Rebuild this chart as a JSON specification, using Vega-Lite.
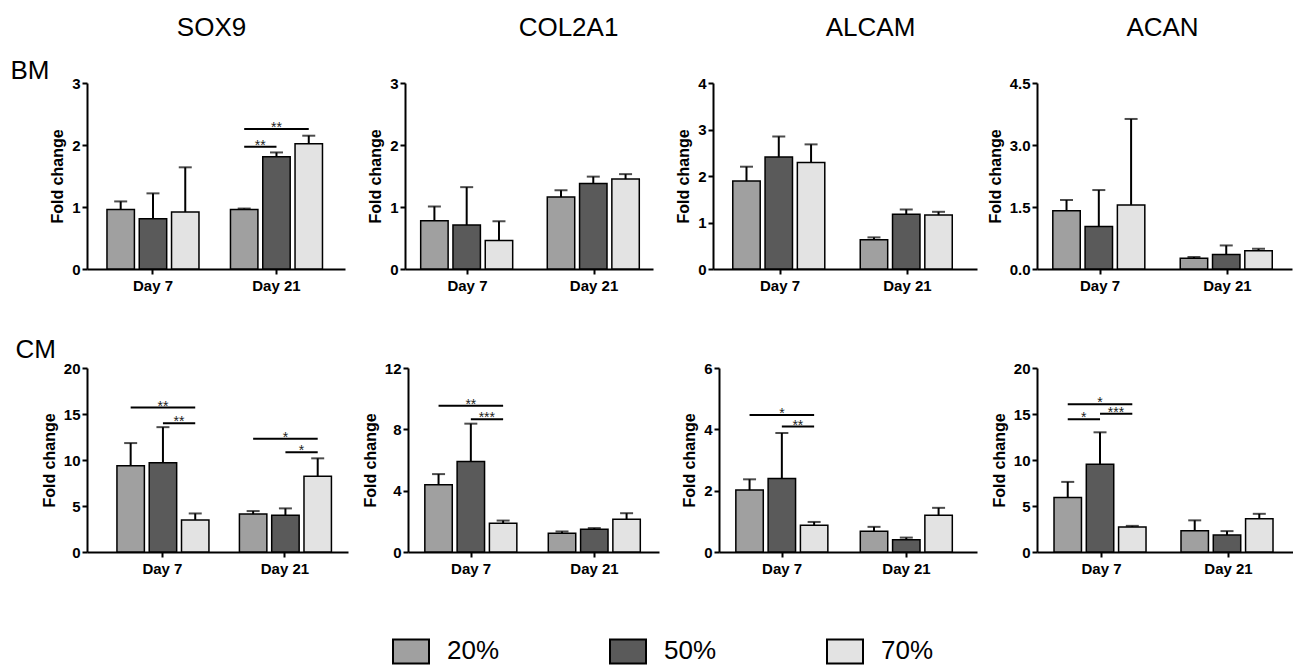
{
  "$schema": "https://vega.github.io/schema/vega-lite/v6.json",
  "padding": {"left": 10, "top": 14, "right": 0, "bottom": 0},
  "spacing": 43,
  "config": {
    "view": {"stroke": null},
    "font": "Liberation Sans",
    "axis": {"domainColor": "black", "domainWidth": 2, "tickColor": "black", "tickWidth": 2, "tickSize": 5, "labelColor": "black", "labelFont": "Liberation Sans", "labelFontWeight": "bold", "labelFontSize": 15, "labelPadding": 2, "titleColor": "black", "titleFont": "Liberation Sans", "titleFontWeight": "bold", "titleFontSize": 16, "titlePadding": 6, "grid": false},
    "axisX": {"labelPadding": 4},
    "text": {"font": "Liberation Sans"}
  },
  "datasets": {
    "bars": [
      {"row": "BM", "gene": "SOX9", "day": "Day 7", "group": "20%", "mean": 0.96, "upper": 1.09},
      {"row": "BM", "gene": "SOX9", "day": "Day 7", "group": "50%", "mean": 0.81, "upper": 1.22},
      {"row": "BM", "gene": "SOX9", "day": "Day 7", "group": "70%", "mean": 0.92, "upper": 1.64},
      {"row": "BM", "gene": "SOX9", "day": "Day 21", "group": "20%", "mean": 0.96, "upper": 0.975},
      {"row": "BM", "gene": "SOX9", "day": "Day 21", "group": "50%", "mean": 1.81, "upper": 1.88},
      {"row": "BM", "gene": "SOX9", "day": "Day 21", "group": "70%", "mean": 2.02, "upper": 2.15},
      {"row": "BM", "gene": "COL2A1", "day": "Day 7", "group": "20%", "mean": 0.78, "upper": 1.01},
      {"row": "BM", "gene": "COL2A1", "day": "Day 7", "group": "50%", "mean": 0.71, "upper": 1.32},
      {"row": "BM", "gene": "COL2A1", "day": "Day 7", "group": "70%", "mean": 0.46, "upper": 0.77},
      {"row": "BM", "gene": "COL2A1", "day": "Day 21", "group": "20%", "mean": 1.16, "upper": 1.27},
      {"row": "BM", "gene": "COL2A1", "day": "Day 21", "group": "50%", "mean": 1.38, "upper": 1.49},
      {"row": "BM", "gene": "COL2A1", "day": "Day 21", "group": "70%", "mean": 1.45, "upper": 1.53},
      {"row": "BM", "gene": "ALCAM", "day": "Day 7", "group": "20%", "mean": 1.89, "upper": 2.2},
      {"row": "BM", "gene": "ALCAM", "day": "Day 7", "group": "50%", "mean": 2.41, "upper": 2.85},
      {"row": "BM", "gene": "ALCAM", "day": "Day 7", "group": "70%", "mean": 2.29, "upper": 2.68},
      {"row": "BM", "gene": "ALCAM", "day": "Day 21", "group": "20%", "mean": 0.63, "upper": 0.68},
      {"row": "BM", "gene": "ALCAM", "day": "Day 21", "group": "50%", "mean": 1.18, "upper": 1.28},
      {"row": "BM", "gene": "ALCAM", "day": "Day 21", "group": "70%", "mean": 1.16, "upper": 1.23},
      {"row": "BM", "gene": "ACAN", "day": "Day 7", "group": "20%", "mean": 1.41, "upper": 1.67},
      {"row": "BM", "gene": "ACAN", "day": "Day 7", "group": "50%", "mean": 1.03, "upper": 1.91},
      {"row": "BM", "gene": "ACAN", "day": "Day 7", "group": "70%", "mean": 1.55, "upper": 3.63},
      {"row": "BM", "gene": "ACAN", "day": "Day 21", "group": "20%", "mean": 0.26, "upper": 0.29},
      {"row": "BM", "gene": "ACAN", "day": "Day 21", "group": "50%", "mean": 0.35, "upper": 0.57},
      {"row": "BM", "gene": "ACAN", "day": "Day 21", "group": "70%", "mean": 0.44, "upper": 0.49},
      {"row": "CM", "gene": "SOX9", "day": "Day 7", "group": "20%", "mean": 9.38, "upper": 11.84},
      {"row": "CM", "gene": "SOX9", "day": "Day 7", "group": "50%", "mean": 9.71, "upper": 13.57},
      {"row": "CM", "gene": "SOX9", "day": "Day 7", "group": "70%", "mean": 3.49, "upper": 4.19},
      {"row": "CM", "gene": "SOX9", "day": "Day 21", "group": "20%", "mean": 4.12, "upper": 4.45},
      {"row": "CM", "gene": "SOX9", "day": "Day 21", "group": "50%", "mean": 4.0, "upper": 4.74},
      {"row": "CM", "gene": "SOX9", "day": "Day 21", "group": "70%", "mean": 8.24, "upper": 10.18},
      {"row": "CM", "gene": "COL2A1", "day": "Day 7", "group": "20%", "mean": 4.39, "upper": 5.08},
      {"row": "CM", "gene": "COL2A1", "day": "Day 7", "group": "50%", "mean": 5.9, "upper": 8.37},
      {"row": "CM", "gene": "COL2A1", "day": "Day 7", "group": "70%", "mean": 1.88, "upper": 2.05},
      {"row": "CM", "gene": "COL2A1", "day": "Day 21", "group": "20%", "mean": 1.23, "upper": 1.34},
      {"row": "CM", "gene": "COL2A1", "day": "Day 21", "group": "50%", "mean": 1.49, "upper": 1.56},
      {"row": "CM", "gene": "COL2A1", "day": "Day 21", "group": "70%", "mean": 2.14, "upper": 2.53},
      {"row": "CM", "gene": "ALCAM", "day": "Day 7", "group": "20%", "mean": 2.02, "upper": 2.37},
      {"row": "CM", "gene": "ALCAM", "day": "Day 7", "group": "50%", "mean": 2.4, "upper": 3.88},
      {"row": "CM", "gene": "ALCAM", "day": "Day 7", "group": "70%", "mean": 0.87, "upper": 0.98},
      {"row": "CM", "gene": "ALCAM", "day": "Day 21", "group": "20%", "mean": 0.68, "upper": 0.82},
      {"row": "CM", "gene": "ALCAM", "day": "Day 21", "group": "50%", "mean": 0.4, "upper": 0.47},
      {"row": "CM", "gene": "ALCAM", "day": "Day 21", "group": "70%", "mean": 1.2, "upper": 1.44},
      {"row": "CM", "gene": "ACAN", "day": "Day 7", "group": "20%", "mean": 5.92, "upper": 7.62},
      {"row": "CM", "gene": "ACAN", "day": "Day 7", "group": "50%", "mean": 9.54, "upper": 13.01},
      {"row": "CM", "gene": "ACAN", "day": "Day 7", "group": "70%", "mean": 2.73, "upper": 2.84},
      {"row": "CM", "gene": "ACAN", "day": "Day 21", "group": "20%", "mean": 2.3, "upper": 3.44},
      {"row": "CM", "gene": "ACAN", "day": "Day 21", "group": "50%", "mean": 1.84, "upper": 2.27},
      {"row": "CM", "gene": "ACAN", "day": "Day 21", "group": "70%", "mean": 3.62, "upper": 4.15}
    ],
    "sig": [
      {"row": "BM", "gene": "SOX9", "day": "Day 21", "id": "a", "group": "20%", "level": 1.97},
      {"row": "BM", "gene": "SOX9", "day": "Day 21", "id": "a", "group": "50%", "level": 1.97},
      {"row": "BM", "gene": "SOX9", "day": "Day 21", "id": "b", "group": "20%", "level": 2.26},
      {"row": "BM", "gene": "SOX9", "day": "Day 21", "id": "b", "group": "70%", "level": 2.26},
      {"row": "CM", "gene": "SOX9", "day": "Day 7", "id": "c", "group": "20%", "level": 15.7},
      {"row": "CM", "gene": "SOX9", "day": "Day 7", "id": "c", "group": "70%", "level": 15.7},
      {"row": "CM", "gene": "SOX9", "day": "Day 7", "id": "d", "group": "50%", "level": 14.0},
      {"row": "CM", "gene": "SOX9", "day": "Day 7", "id": "d", "group": "70%", "level": 14.0},
      {"row": "CM", "gene": "SOX9", "day": "Day 21", "id": "e", "group": "20%", "level": 12.3},
      {"row": "CM", "gene": "SOX9", "day": "Day 21", "id": "e", "group": "70%", "level": 12.3},
      {"row": "CM", "gene": "SOX9", "day": "Day 21", "id": "f", "group": "50%", "level": 10.85},
      {"row": "CM", "gene": "SOX9", "day": "Day 21", "id": "f", "group": "70%", "level": 10.85},
      {"row": "CM", "gene": "COL2A1", "day": "Day 7", "id": "g", "group": "20%", "level": 9.54},
      {"row": "CM", "gene": "COL2A1", "day": "Day 7", "id": "g", "group": "70%", "level": 9.54},
      {"row": "CM", "gene": "COL2A1", "day": "Day 7", "id": "h", "group": "50%", "level": 8.65},
      {"row": "CM", "gene": "COL2A1", "day": "Day 7", "id": "h", "group": "70%", "level": 8.65},
      {"row": "CM", "gene": "ALCAM", "day": "Day 7", "id": "i", "group": "20%", "level": 4.47},
      {"row": "CM", "gene": "ALCAM", "day": "Day 7", "id": "i", "group": "70%", "level": 4.47},
      {"row": "CM", "gene": "ALCAM", "day": "Day 7", "id": "j", "group": "50%", "level": 4.09},
      {"row": "CM", "gene": "ALCAM", "day": "Day 7", "id": "j", "group": "70%", "level": 4.09},
      {"row": "CM", "gene": "ACAN", "day": "Day 7", "id": "k", "group": "20%", "level": 16.06},
      {"row": "CM", "gene": "ACAN", "day": "Day 7", "id": "k", "group": "70%", "level": 16.06},
      {"row": "CM", "gene": "ACAN", "day": "Day 7", "id": "l", "group": "20%", "level": 14.43},
      {"row": "CM", "gene": "ACAN", "day": "Day 7", "id": "l", "group": "50%", "level": 14.43},
      {"row": "CM", "gene": "ACAN", "day": "Day 7", "id": "m", "group": "50%", "level": 15.04},
      {"row": "CM", "gene": "ACAN", "day": "Day 7", "id": "m", "group": "70%", "level": 15.04}
    ],
    "stars": [
      {"row": "BM", "gene": "SOX9", "day": "Day 21", "group": "20%", "pos": "between", "level": 1.97, "label": "**"},
      {"row": "BM", "gene": "SOX9", "day": "Day 21", "group": "50%", "pos": "on", "level": 2.26, "label": "**"},
      {"row": "CM", "gene": "SOX9", "day": "Day 7", "group": "50%", "pos": "on", "level": 15.7, "label": "**"},
      {"row": "CM", "gene": "SOX9", "day": "Day 7", "group": "50%", "pos": "between", "level": 14.0, "label": "**"},
      {"row": "CM", "gene": "SOX9", "day": "Day 21", "group": "50%", "pos": "on", "level": 12.3, "label": "*"},
      {"row": "CM", "gene": "SOX9", "day": "Day 21", "group": "50%", "pos": "between", "level": 10.85, "label": "*"},
      {"row": "CM", "gene": "COL2A1", "day": "Day 7", "group": "50%", "pos": "on", "level": 9.54, "label": "**"},
      {"row": "CM", "gene": "COL2A1", "day": "Day 7", "group": "50%", "pos": "between", "level": 8.65, "label": "***"},
      {"row": "CM", "gene": "ALCAM", "day": "Day 7", "group": "50%", "pos": "on", "level": 4.47, "label": "*"},
      {"row": "CM", "gene": "ALCAM", "day": "Day 7", "group": "50%", "pos": "between", "level": 4.09, "label": "**"},
      {"row": "CM", "gene": "ACAN", "day": "Day 7", "group": "50%", "pos": "on", "level": 16.06, "label": "*"},
      {"row": "CM", "gene": "ACAN", "day": "Day 7", "group": "20%", "pos": "between", "level": 14.43, "label": "*"},
      {"row": "CM", "gene": "ACAN", "day": "Day 7", "group": "50%", "pos": "between", "level": 15.04, "label": "***"}
    ]
  },
  "vconcat": [
    {
      "bounds": "flush",
      "spacing": 60,
      "hconcat": [
        {
          "width": 258, "height": 186,
          "resolve": {"axis": {"x": "independent", "y": "independent"}},
          "layer": [
            {
              "data": {"name": "bars"},
              "transform": [{"filter": "datum.row === 'BM' && datum.gene === 'SOX9'"}],
              "mark": {"type": "bar", "stroke": "black", "strokeWidth": 1.5},
              "encoding": {
                "x": {"field": "day", "type": "nominal", "sort": ["Day 7", "Day 21"], "scale": {"paddingInner": 0.255, "paddingOuter": 0.172, "align": 0.47}, "axis": {"orient": "bottom", "title": null, "labelAngle": 0}},
                "xOffset": {"field": "group", "type": "nominal", "sort": ["20%", "50%", "70%"], "scale": {"paddingInner": 0.15, "paddingOuter": 0}},
                "y": {"field": "mean", "type": "quantitative", "scale": {"domain": [0, 3], "nice": false}, "axis": {"orient": "left", "title": "Fold change", "values": [0, 1, 2, 3]}},
                "fill": {"field": "group", "type": "nominal", "scale": {"domain": ["20%", "50%", "70%"], "range": ["#a0a0a0", "#5a5a5a", "#e3e3e3"]},
                  "legend": {"orient": "none", "legendX": 305, "legendY": 549, "direction": "horizontal", "columns": 3, "title": null, "symbolType": "M-1,-0.667H1V0.667H-1Z", "symbolSize": 1296, "symbolStrokeColor": "black", "symbolStrokeWidth": 2, "symbolOpacity": 1, "labelFontSize": 26, "labelFont": "Liberation Sans", "labelColor": "black", "labelOffset": 17, "columnPadding": 106}}
              }
            },
            {
              "data": {"name": "bars"},
              "transform": [{"filter": "datum.row === 'BM' && datum.gene === 'SOX9'"}],
              "mark": {"type": "rule", "strokeWidth": 2, "color": "black"},
              "encoding": {
                "x": {"field": "day", "type": "nominal", "sort": ["Day 7", "Day 21"], "axis": {"orient": "top", "title": "SOX9", "domain": false, "ticks": false, "labels": false, "titleFontSize": 26, "titleFontWeight": "normal", "titleX": 124, "titleY": -48, "titleAlign": "center", "titleBaseline": "alphabetic", "titleAngle": 0}},
                "xOffset": {"field": "group", "type": "nominal", "sort": ["20%", "50%", "70%"]},
                "y": {"field": "mean", "type": "quantitative", "axis": null},
                "y2": {"field": "upper"}
              }
            },
            {
              "data": {"name": "bars"},
              "transform": [{"filter": "datum.row === 'BM' && datum.gene === 'SOX9'"}],
              "mark": {"type": "tick", "thickness": 2, "size": 13, "color": "black"},
              "encoding": {
                "x": {"field": "day", "type": "nominal", "sort": ["Day 7", "Day 21"], "axis": null},
                "xOffset": {"field": "group", "type": "nominal", "sort": ["20%", "50%", "70%"]},
                "y": {"field": "upper", "type": "quantitative", "axis": {"orient": "right", "title": "BM", "domain": false, "ticks": false, "labels": false, "titleFontSize": 26, "titleFontWeight": "normal", "titleAngle": 0, "titleX": -335, "titleY": -5, "titleAlign": "left", "titleBaseline": "alphabetic"}}
              }
            },
            {
              "data": {"name": "sig"},
              "transform": [{"filter": "datum.row === 'BM' && datum.gene === 'SOX9'"}],
              "mark": {"type": "line", "strokeWidth": 2, "color": "black"},
              "encoding": {
                "x": {"field": "day", "type": "nominal", "sort": ["Day 7", "Day 21"], "axis": null},
                "xOffset": {"field": "group", "type": "nominal", "sort": ["20%", "50%", "70%"]},
                "y": {"field": "level", "type": "quantitative", "axis": null},
                "detail": {"field": "id"}
              }
            },
            {
              "data": {"name": "stars"},
              "transform": [{"filter": "datum.row === 'BM' && datum.gene === 'SOX9' && datum.pos === 'on'"}],
              "mark": {"type": "text", "fontSize": 14, "baseline": "alphabetic", "dy": 3, "color": "#222"},
              "encoding": {
                "x": {"field": "day", "type": "nominal", "sort": ["Day 7", "Day 21"], "axis": null},
                "xOffset": {"field": "group", "type": "nominal", "sort": ["20%", "50%", "70%"]},
                "y": {"field": "level", "type": "quantitative", "axis": null},
                "text": {"field": "label"}
              }
            },
            {
              "data": {"name": "stars"},
              "transform": [{"filter": "datum.row === 'BM' && datum.gene === 'SOX9' && datum.pos === 'between'"}],
              "mark": {"type": "text", "fontSize": 14, "baseline": "alphabetic", "dy": 3, "dx": 16, "color": "#222"},
              "encoding": {
                "x": {"field": "day", "type": "nominal", "sort": ["Day 7", "Day 21"], "axis": null},
                "xOffset": {"field": "group", "type": "nominal", "sort": ["20%", "50%", "70%"]},
                "y": {"field": "level", "type": "quantitative", "axis": null},
                "text": {"field": "label"}
              }
            }
          ]
        },
        {
          "width": 248, "height": 186,
          "resolve": {"axis": {"x": "independent", "y": "independent"}},
          "layer": [
            {
              "data": {"name": "bars"},
              "transform": [{"filter": "datum.row === 'BM' && datum.gene === 'COL2A1'"}],
              "mark": {"type": "bar", "stroke": "black", "strokeWidth": 1.5},
              "encoding": {
                "x": {"field": "day", "type": "nominal", "sort": ["Day 7", "Day 21"], "scale": {"paddingInner": 0.261, "paddingOuter": 0.11, "align": 0.563}, "axis": {"orient": "bottom", "title": null, "labelAngle": 0}},
                "xOffset": {"field": "group", "type": "nominal", "sort": ["20%", "50%", "70%"], "scale": {"paddingInner": 0.15, "paddingOuter": 0}},
                "y": {"field": "mean", "type": "quantitative", "scale": {"domain": [0, 3], "nice": false}, "axis": {"orient": "left", "title": "Fold change", "values": [0, 1, 2, 3]}},
                "fill": {"field": "group", "type": "nominal", "scale": {"domain": ["20%", "50%", "70%"], "range": ["#a0a0a0", "#5a5a5a", "#e3e3e3"]}, "legend": null}
              }
            },
            {
              "data": {"name": "bars"},
              "transform": [{"filter": "datum.row === 'BM' && datum.gene === 'COL2A1'"}],
              "mark": {"type": "rule", "strokeWidth": 2, "color": "black"},
              "encoding": {
                "x": {"field": "day", "type": "nominal", "sort": ["Day 7", "Day 21"], "axis": {"orient": "top", "title": "COL2A1", "domain": false, "ticks": false, "labels": false, "titleFontSize": 26, "titleFontWeight": "normal", "titleX": 163, "titleY": -48, "titleAlign": "center", "titleBaseline": "alphabetic", "titleAngle": 0}},
                "xOffset": {"field": "group", "type": "nominal", "sort": ["20%", "50%", "70%"]},
                "y": {"field": "mean", "type": "quantitative", "axis": null},
                "y2": {"field": "upper"}
              }
            },
            {
              "data": {"name": "bars"},
              "transform": [{"filter": "datum.row === 'BM' && datum.gene === 'COL2A1'"}],
              "mark": {"type": "tick", "thickness": 2, "size": 13, "color": "black"},
              "encoding": {
                "x": {"field": "day", "type": "nominal", "sort": ["Day 7", "Day 21"], "axis": null},
                "xOffset": {"field": "group", "type": "nominal", "sort": ["20%", "50%", "70%"]},
                "y": {"field": "upper", "type": "quantitative", "axis": null}
              }
            }
          ]
        },
        {
          "width": 264, "height": 186,
          "resolve": {"axis": {"x": "independent", "y": "independent"}},
          "layer": [
            {
              "data": {"name": "bars"},
              "transform": [{"filter": "datum.row === 'BM' && datum.gene === 'ALCAM'"}],
              "mark": {"type": "bar", "stroke": "black", "strokeWidth": 1.5},
              "encoding": {
                "x": {"field": "day", "type": "nominal", "sort": ["Day 7", "Day 21"], "scale": {"paddingInner": 0.259, "paddingOuter": 0.165, "align": 0.47}, "axis": {"orient": "bottom", "title": null, "labelAngle": 0}},
                "xOffset": {"field": "group", "type": "nominal", "sort": ["20%", "50%", "70%"], "scale": {"paddingInner": 0.15, "paddingOuter": 0}},
                "y": {"field": "mean", "type": "quantitative", "scale": {"domain": [0, 4], "nice": false}, "axis": {"orient": "left", "title": "Fold change", "values": [0, 1, 2, 3, 4]}},
                "fill": {"field": "group", "type": "nominal", "scale": {"domain": ["20%", "50%", "70%"], "range": ["#a0a0a0", "#5a5a5a", "#e3e3e3"]}, "legend": null}
              }
            },
            {
              "data": {"name": "bars"},
              "transform": [{"filter": "datum.row === 'BM' && datum.gene === 'ALCAM'"}],
              "mark": {"type": "rule", "strokeWidth": 2, "color": "black"},
              "encoding": {
                "x": {"field": "day", "type": "nominal", "sort": ["Day 7", "Day 21"], "axis": {"orient": "top", "title": "ALCAM", "domain": false, "ticks": false, "labels": false, "titleFontSize": 26, "titleFontWeight": "normal", "titleX": 157, "titleY": -48, "titleAlign": "center", "titleBaseline": "alphabetic", "titleAngle": 0}},
                "xOffset": {"field": "group", "type": "nominal", "sort": ["20%", "50%", "70%"]},
                "y": {"field": "mean", "type": "quantitative", "axis": null},
                "y2": {"field": "upper"}
              }
            },
            {
              "data": {"name": "bars"},
              "transform": [{"filter": "datum.row === 'BM' && datum.gene === 'ALCAM'"}],
              "mark": {"type": "tick", "thickness": 2, "size": 13, "color": "black"},
              "encoding": {
                "x": {"field": "day", "type": "nominal", "sort": ["Day 7", "Day 21"], "axis": null},
                "xOffset": {"field": "group", "type": "nominal", "sort": ["20%", "50%", "70%"]},
                "y": {"field": "upper", "type": "quantitative", "axis": null}
              }
            }
          ]
        },
        {
          "width": 255, "height": 186,
          "resolve": {"axis": {"x": "independent", "y": "independent"}},
          "layer": [
            {
              "data": {"name": "bars"},
              "transform": [{"filter": "datum.row === 'BM' && datum.gene === 'ACAN'"}],
              "mark": {"type": "bar", "stroke": "black", "strokeWidth": 1.5},
              "encoding": {
                "x": {"field": "day", "type": "nominal", "sort": ["Day 7", "Day 21"], "scale": {"paddingInner": 0.259, "paddingOuter": 0.13, "align": 0.477}, "axis": {"orient": "bottom", "title": null, "labelAngle": 0}},
                "xOffset": {"field": "group", "type": "nominal", "sort": ["20%", "50%", "70%"], "scale": {"paddingInner": 0.15, "paddingOuter": 0}},
                "y": {"field": "mean", "type": "quantitative", "scale": {"domain": [0, 4.5], "nice": false}, "axis": {"orient": "left", "title": "Fold change", "values": [0, 1.5, 3, 4.5], "format": ".1f"}},
                "fill": {"field": "group", "type": "nominal", "scale": {"domain": ["20%", "50%", "70%"], "range": ["#a0a0a0", "#5a5a5a", "#e3e3e3"]}, "legend": null}
              }
            },
            {
              "data": {"name": "bars"},
              "transform": [{"filter": "datum.row === 'BM' && datum.gene === 'ACAN'"}],
              "mark": {"type": "rule", "strokeWidth": 2, "color": "black"},
              "encoding": {
                "x": {"field": "day", "type": "nominal", "sort": ["Day 7", "Day 21"], "axis": {"orient": "top", "title": "ACAN", "domain": false, "ticks": false, "labels": false, "titleFontSize": 26, "titleFontWeight": "normal", "titleX": 125, "titleY": -48, "titleAlign": "center", "titleBaseline": "alphabetic", "titleAngle": 0}},
                "xOffset": {"field": "group", "type": "nominal", "sort": ["20%", "50%", "70%"]},
                "y": {"field": "mean", "type": "quantitative", "axis": null},
                "y2": {"field": "upper"}
              }
            },
            {
              "data": {"name": "bars"},
              "transform": [{"filter": "datum.row === 'BM' && datum.gene === 'ACAN'"}],
              "mark": {"type": "tick", "thickness": 2, "size": 13, "color": "black"},
              "encoding": {
                "x": {"field": "day", "type": "nominal", "sort": ["Day 7", "Day 21"], "axis": null},
                "xOffset": {"field": "group", "type": "nominal", "sort": ["20%", "50%", "70%"]},
                "y": {"field": "upper", "type": "quantitative", "axis": null}
              }
            }
          ]
        }
      ]
    },
    {
      "bounds": "flush",
      "spacing": 60,
      "hconcat": [
        {
          "width": 261, "height": 184,
          "resolve": {"axis": {"x": "independent", "y": "independent"}},
          "layer": [
            {
              "data": {"name": "bars"},
              "transform": [{"filter": "datum.row === 'CM' && datum.gene === 'SOX9'"}],
              "mark": {"type": "bar", "stroke": "black", "strokeWidth": 1.5},
              "encoding": {
                "x": {"field": "day", "type": "nominal", "sort": ["Day 7", "Day 21"], "scale": {"paddingInner": 0.257, "paddingOuter": 0.194, "align": 0.63}, "axis": {"orient": "bottom", "title": null, "labelAngle": 0}},
                "xOffset": {"field": "group", "type": "nominal", "sort": ["20%", "50%", "70%"], "scale": {"paddingInner": 0.15, "paddingOuter": 0}},
                "y": {"field": "mean", "type": "quantitative", "scale": {"domain": [0, 20], "nice": false}, "axis": {"orient": "left", "title": "Fold change", "values": [0, 5, 10, 15, 20]}},
                "fill": {"field": "group", "type": "nominal", "scale": {"domain": ["20%", "50%", "70%"], "range": ["#a0a0a0", "#5a5a5a", "#e3e3e3"]}, "legend": null}
              }
            },
            {
              "data": {"name": "bars"},
              "transform": [{"filter": "datum.row === 'CM' && datum.gene === 'SOX9'"}],
              "mark": {"type": "rule", "strokeWidth": 2, "color": "black"},
              "encoding": {
                "x": {"field": "day", "type": "nominal", "sort": ["Day 7", "Day 21"], "axis": null},
                "xOffset": {"field": "group", "type": "nominal", "sort": ["20%", "50%", "70%"]},
                "y": {"field": "mean", "type": "quantitative", "axis": null},
                "y2": {"field": "upper"}
              }
            },
            {
              "data": {"name": "bars"},
              "transform": [{"filter": "datum.row === 'CM' && datum.gene === 'SOX9'"}],
              "mark": {"type": "tick", "thickness": 2, "size": 13, "color": "black"},
              "encoding": {
                "x": {"field": "day", "type": "nominal", "sort": ["Day 7", "Day 21"], "axis": null},
                "xOffset": {"field": "group", "type": "nominal", "sort": ["20%", "50%", "70%"]},
                "y": {"field": "upper", "type": "quantitative", "axis": {"orient": "right", "title": "CM", "domain": false, "ticks": false, "labels": false, "titleFontSize": 26, "titleFontWeight": "normal", "titleAngle": 0, "titleX": -333, "titleY": -11, "titleAlign": "left", "titleBaseline": "alphabetic"}}
              }
            },
            {
              "data": {"name": "sig"},
              "transform": [{"filter": "datum.row === 'CM' && datum.gene === 'SOX9'"}],
              "mark": {"type": "line", "strokeWidth": 2, "color": "black"},
              "encoding": {
                "x": {"field": "day", "type": "nominal", "sort": ["Day 7", "Day 21"], "axis": null},
                "xOffset": {"field": "group", "type": "nominal", "sort": ["20%", "50%", "70%"]},
                "y": {"field": "level", "type": "quantitative", "axis": null},
                "detail": {"field": "id"}
              }
            },
            {
              "data": {"name": "stars"},
              "transform": [{"filter": "datum.row === 'CM' && datum.gene === 'SOX9' && datum.pos === 'on'"}],
              "mark": {"type": "text", "fontSize": 14, "baseline": "alphabetic", "dy": 3, "color": "#222"},
              "encoding": {
                "x": {"field": "day", "type": "nominal", "sort": ["Day 7", "Day 21"], "axis": null},
                "xOffset": {"field": "group", "type": "nominal", "sort": ["20%", "50%", "70%"]},
                "y": {"field": "level", "type": "quantitative", "axis": null},
                "text": {"field": "label"}
              }
            },
            {
              "data": {"name": "stars"},
              "transform": [{"filter": "datum.row === 'CM' && datum.gene === 'SOX9' && datum.pos === 'between'"}],
              "mark": {"type": "text", "fontSize": 14, "baseline": "alphabetic", "dy": 3, "dx": 16, "color": "#222"},
              "encoding": {
                "x": {"field": "day", "type": "nominal", "sort": ["Day 7", "Day 21"], "axis": null},
                "xOffset": {"field": "group", "type": "nominal", "sort": ["20%", "50%", "70%"]},
                "y": {"field": "level", "type": "quantitative", "axis": null},
                "text": {"field": "label"}
              }
            }
          ]
        },
        {
          "width": 251, "height": 184,
          "resolve": {"axis": {"x": "independent", "y": "independent"}},
          "layer": [
            {
              "data": {"name": "bars"},
              "transform": [{"filter": "datum.row === 'CM' && datum.gene === 'COL2A1'"}],
              "mark": {"type": "bar", "stroke": "black", "strokeWidth": 1.5},
              "encoding": {
                "x": {"field": "day", "type": "nominal", "sort": ["Day 7", "Day 21"], "scale": {"paddingInner": 0.251, "paddingOuter": 0.142, "align": 0.48}, "axis": {"orient": "bottom", "title": null, "labelAngle": 0}},
                "xOffset": {"field": "group", "type": "nominal", "sort": ["20%", "50%", "70%"], "scale": {"paddingInner": 0.15, "paddingOuter": 0}},
                "y": {"field": "mean", "type": "quantitative", "scale": {"domain": [0, 12], "nice": false}, "axis": {"orient": "left", "title": "Fold change", "values": [0, 4, 8, 12]}},
                "fill": {"field": "group", "type": "nominal", "scale": {"domain": ["20%", "50%", "70%"], "range": ["#a0a0a0", "#5a5a5a", "#e3e3e3"]}, "legend": null}
              }
            },
            {
              "data": {"name": "bars"},
              "transform": [{"filter": "datum.row === 'CM' && datum.gene === 'COL2A1'"}],
              "mark": {"type": "rule", "strokeWidth": 2, "color": "black"},
              "encoding": {
                "x": {"field": "day", "type": "nominal", "sort": ["Day 7", "Day 21"], "axis": null},
                "xOffset": {"field": "group", "type": "nominal", "sort": ["20%", "50%", "70%"]},
                "y": {"field": "mean", "type": "quantitative", "axis": null},
                "y2": {"field": "upper"}
              }
            },
            {
              "data": {"name": "bars"},
              "transform": [{"filter": "datum.row === 'CM' && datum.gene === 'COL2A1'"}],
              "mark": {"type": "tick", "thickness": 2, "size": 13, "color": "black"},
              "encoding": {
                "x": {"field": "day", "type": "nominal", "sort": ["Day 7", "Day 21"], "axis": null},
                "xOffset": {"field": "group", "type": "nominal", "sort": ["20%", "50%", "70%"]},
                "y": {"field": "upper", "type": "quantitative", "axis": null}
              }
            },
            {
              "data": {"name": "sig"},
              "transform": [{"filter": "datum.row === 'CM' && datum.gene === 'COL2A1'"}],
              "mark": {"type": "line", "strokeWidth": 2, "color": "black"},
              "encoding": {
                "x": {"field": "day", "type": "nominal", "sort": ["Day 7", "Day 21"], "axis": null},
                "xOffset": {"field": "group", "type": "nominal", "sort": ["20%", "50%", "70%"]},
                "y": {"field": "level", "type": "quantitative", "axis": null},
                "detail": {"field": "id"}
              }
            },
            {
              "data": {"name": "stars"},
              "transform": [{"filter": "datum.row === 'CM' && datum.gene === 'COL2A1' && datum.pos === 'on'"}],
              "mark": {"type": "text", "fontSize": 14, "baseline": "alphabetic", "dy": 3, "color": "#222"},
              "encoding": {
                "x": {"field": "day", "type": "nominal", "sort": ["Day 7", "Day 21"], "axis": null},
                "xOffset": {"field": "group", "type": "nominal", "sort": ["20%", "50%", "70%"]},
                "y": {"field": "level", "type": "quantitative", "axis": null},
                "text": {"field": "label"}
              }
            },
            {
              "data": {"name": "stars"},
              "transform": [{"filter": "datum.row === 'CM' && datum.gene === 'COL2A1' && datum.pos === 'between'"}],
              "mark": {"type": "text", "fontSize": 14, "baseline": "alphabetic", "dy": 3, "dx": 16, "color": "#222"},
              "encoding": {
                "x": {"field": "day", "type": "nominal", "sort": ["Day 7", "Day 21"], "axis": null},
                "xOffset": {"field": "group", "type": "nominal", "sort": ["20%", "50%", "70%"]},
                "y": {"field": "level", "type": "quantitative", "axis": null},
                "text": {"field": "label"}
              }
            }
          ]
        },
        {
          "width": 258, "height": 184,
          "resolve": {"axis": {"x": "independent", "y": "independent"}},
          "layer": [
            {
              "data": {"name": "bars"},
              "transform": [{"filter": "datum.row === 'CM' && datum.gene === 'ALCAM'"}],
              "mark": {"type": "bar", "stroke": "black", "strokeWidth": 1.5},
              "encoding": {
                "x": {"field": "day", "type": "nominal", "sort": ["Day 7", "Day 21"], "scale": {"paddingInner": 0.257, "paddingOuter": 0.165, "align": 0.41}, "axis": {"orient": "bottom", "title": null, "labelAngle": 0}},
                "xOffset": {"field": "group", "type": "nominal", "sort": ["20%", "50%", "70%"], "scale": {"paddingInner": 0.15, "paddingOuter": 0}},
                "y": {"field": "mean", "type": "quantitative", "scale": {"domain": [0, 6], "nice": false}, "axis": {"orient": "left", "title": "Fold change", "values": [0, 2, 4, 6]}},
                "fill": {"field": "group", "type": "nominal", "scale": {"domain": ["20%", "50%", "70%"], "range": ["#a0a0a0", "#5a5a5a", "#e3e3e3"]}, "legend": null}
              }
            },
            {
              "data": {"name": "bars"},
              "transform": [{"filter": "datum.row === 'CM' && datum.gene === 'ALCAM'"}],
              "mark": {"type": "rule", "strokeWidth": 2, "color": "black"},
              "encoding": {
                "x": {"field": "day", "type": "nominal", "sort": ["Day 7", "Day 21"], "axis": null},
                "xOffset": {"field": "group", "type": "nominal", "sort": ["20%", "50%", "70%"]},
                "y": {"field": "mean", "type": "quantitative", "axis": null},
                "y2": {"field": "upper"}
              }
            },
            {
              "data": {"name": "bars"},
              "transform": [{"filter": "datum.row === 'CM' && datum.gene === 'ALCAM'"}],
              "mark": {"type": "tick", "thickness": 2, "size": 13, "color": "black"},
              "encoding": {
                "x": {"field": "day", "type": "nominal", "sort": ["Day 7", "Day 21"], "axis": null},
                "xOffset": {"field": "group", "type": "nominal", "sort": ["20%", "50%", "70%"]},
                "y": {"field": "upper", "type": "quantitative", "axis": null}
              }
            },
            {
              "data": {"name": "sig"},
              "transform": [{"filter": "datum.row === 'CM' && datum.gene === 'ALCAM'"}],
              "mark": {"type": "line", "strokeWidth": 2, "color": "black"},
              "encoding": {
                "x": {"field": "day", "type": "nominal", "sort": ["Day 7", "Day 21"], "axis": null},
                "xOffset": {"field": "group", "type": "nominal", "sort": ["20%", "50%", "70%"]},
                "y": {"field": "level", "type": "quantitative", "axis": null},
                "detail": {"field": "id"}
              }
            },
            {
              "data": {"name": "stars"},
              "transform": [{"filter": "datum.row === 'CM' && datum.gene === 'ALCAM' && datum.pos === 'on'"}],
              "mark": {"type": "text", "fontSize": 14, "baseline": "alphabetic", "dy": 3, "color": "#222"},
              "encoding": {
                "x": {"field": "day", "type": "nominal", "sort": ["Day 7", "Day 21"], "axis": null},
                "xOffset": {"field": "group", "type": "nominal", "sort": ["20%", "50%", "70%"]},
                "y": {"field": "level", "type": "quantitative", "axis": null},
                "text": {"field": "label"}
              }
            },
            {
              "data": {"name": "stars"},
              "transform": [{"filter": "datum.row === 'CM' && datum.gene === 'ALCAM' && datum.pos === 'between'"}],
              "mark": {"type": "text", "fontSize": 14, "baseline": "alphabetic", "dy": 3, "dx": 16, "color": "#222"},
              "encoding": {
                "x": {"field": "day", "type": "nominal", "sort": ["Day 7", "Day 21"], "axis": null},
                "xOffset": {"field": "group", "type": "nominal", "sort": ["20%", "50%", "70%"]},
                "y": {"field": "level", "type": "quantitative", "axis": null},
                "text": {"field": "label"}
              }
            }
          ]
        },
        {
          "width": 256, "height": 184,
          "resolve": {"axis": {"x": "independent", "y": "independent"}},
          "layer": [
            {
              "data": {"name": "bars"},
              "transform": [{"filter": "datum.row === 'CM' && datum.gene === 'ACAN'"}],
              "mark": {"type": "bar", "stroke": "black", "strokeWidth": 1.5},
              "encoding": {
                "x": {"field": "day", "type": "nominal", "sort": ["Day 7", "Day 21"], "scale": {"paddingInner": 0.252, "paddingOuter": 0.134, "align": 0.5}, "axis": {"orient": "bottom", "title": null, "labelAngle": 0}},
                "xOffset": {"field": "group", "type": "nominal", "sort": ["20%", "50%", "70%"], "scale": {"paddingInner": 0.15, "paddingOuter": 0}},
                "y": {"field": "mean", "type": "quantitative", "scale": {"domain": [0, 20], "nice": false}, "axis": {"orient": "left", "title": "Fold change", "values": [0, 5, 10, 15, 20]}},
                "fill": {"field": "group", "type": "nominal", "scale": {"domain": ["20%", "50%", "70%"], "range": ["#a0a0a0", "#5a5a5a", "#e3e3e3"]}, "legend": null}
              }
            },
            {
              "data": {"name": "bars"},
              "transform": [{"filter": "datum.row === 'CM' && datum.gene === 'ACAN'"}],
              "mark": {"type": "rule", "strokeWidth": 2, "color": "black"},
              "encoding": {
                "x": {"field": "day", "type": "nominal", "sort": ["Day 7", "Day 21"], "axis": null},
                "xOffset": {"field": "group", "type": "nominal", "sort": ["20%", "50%", "70%"]},
                "y": {"field": "mean", "type": "quantitative", "axis": null},
                "y2": {"field": "upper"}
              }
            },
            {
              "data": {"name": "bars"},
              "transform": [{"filter": "datum.row === 'CM' && datum.gene === 'ACAN'"}],
              "mark": {"type": "tick", "thickness": 2, "size": 13, "color": "black"},
              "encoding": {
                "x": {"field": "day", "type": "nominal", "sort": ["Day 7", "Day 21"], "axis": null},
                "xOffset": {"field": "group", "type": "nominal", "sort": ["20%", "50%", "70%"]},
                "y": {"field": "upper", "type": "quantitative", "axis": null}
              }
            },
            {
              "data": {"name": "sig"},
              "transform": [{"filter": "datum.row === 'CM' && datum.gene === 'ACAN'"}],
              "mark": {"type": "line", "strokeWidth": 2, "color": "black"},
              "encoding": {
                "x": {"field": "day", "type": "nominal", "sort": ["Day 7", "Day 21"], "axis": null},
                "xOffset": {"field": "group", "type": "nominal", "sort": ["20%", "50%", "70%"]},
                "y": {"field": "level", "type": "quantitative", "axis": null},
                "detail": {"field": "id"}
              }
            },
            {
              "data": {"name": "stars"},
              "transform": [{"filter": "datum.row === 'CM' && datum.gene === 'ACAN' && datum.pos === 'on'"}],
              "mark": {"type": "text", "fontSize": 14, "baseline": "alphabetic", "dy": 3, "color": "#222"},
              "encoding": {
                "x": {"field": "day", "type": "nominal", "sort": ["Day 7", "Day 21"], "axis": null},
                "xOffset": {"field": "group", "type": "nominal", "sort": ["20%", "50%", "70%"]},
                "y": {"field": "level", "type": "quantitative", "axis": null},
                "text": {"field": "label"}
              }
            },
            {
              "data": {"name": "stars"},
              "transform": [{"filter": "datum.row === 'CM' && datum.gene === 'ACAN' && datum.pos === 'between'"}],
              "mark": {"type": "text", "fontSize": 14, "baseline": "alphabetic", "dy": 3, "dx": 16, "color": "#222"},
              "encoding": {
                "x": {"field": "day", "type": "nominal", "sort": ["Day 7", "Day 21"], "axis": null},
                "xOffset": {"field": "group", "type": "nominal", "sort": ["20%", "50%", "70%"]},
                "y": {"field": "level", "type": "quantitative", "axis": null},
                "text": {"field": "label"}
              }
            }
          ]
        }
      ]
    }
  ]
}
